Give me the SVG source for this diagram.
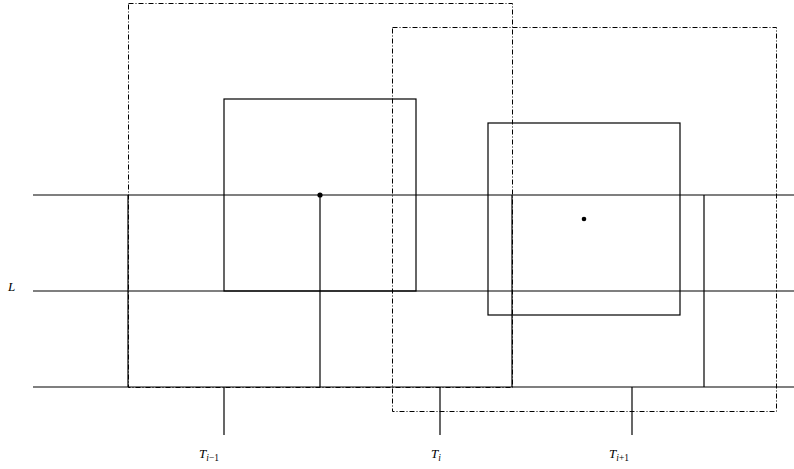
<svg xmlns="http://www.w3.org/2000/svg" width="794" height="469" viewBox="0 0 794 469">
<style>
.ln{stroke:#000;stroke-width:1.2;fill:none}
.dd{stroke:#000;stroke-width:1;fill:none;stroke-dasharray:5,2,1,2}
.lb{font-family:"Liberation Serif","DejaVu Serif",serif;font-style:italic;font-size:13px;fill:#000}
.sb{font-family:"Liberation Serif","DejaVu Serif",serif;font-size:9.5px;fill:#000}
.up{font-style:normal}
</style>
<rect width="794" height="469" fill="#fff"/>
<g id="connectors">
<line class="ln" x1="33" y1="195" x2="794" y2="195"/>
<line class="ln" x1="33" y1="291" x2="794" y2="291"/>
<line class="ln" x1="33" y1="387" x2="794" y2="387"/>
<line class="ln" x1="128" y1="195" x2="128" y2="387"/>
<line class="ln" x1="320" y1="195" x2="320" y2="387"/>
<line class="ln" x1="512" y1="195" x2="512" y2="387"/>
<line class="ln" x1="704" y1="195" x2="704" y2="387"/>
<line class="ln" x1="224" y1="387" x2="224" y2="435"/>
<line class="ln" x1="440" y1="387" x2="440" y2="435"/>
<line class="ln" x1="632" y1="387" x2="632" y2="435"/>
</g>
<g id="window-left"><rect class="dd" x="128.5" y="3.5" width="384" height="384"/></g>
<g id="window-right"><rect class="dd" x="392.5" y="27.5" width="384" height="384"/></g>
<g id="box-left"><rect class="ln" x="224" y="99" width="192" height="192"/></g>
<g id="box-right"><rect class="ln" x="488" y="123" width="192" height="192"/></g>
<g id="dot-left"><circle cx="320" cy="195" r="2.6" fill="#000"/></g>
<g id="dot-right"><circle cx="584" cy="219" r="2.3" fill="#000"/></g>
<g id="label-L"><text class="lb" x="8" y="291">L</text></g>
<g id="label-Ti-1"><text class="lb" x="199" y="458">T<tspan class="sb" dy="3">i<tspan class="up">−1</tspan></tspan></text></g>
<g id="label-Ti"><text class="lb" x="431" y="458">T<tspan class="sb" dy="3">i</tspan></text></g>
<g id="label-Ti+1"><text class="lb" x="609" y="458">T<tspan class="sb" dy="3">i<tspan class="up">+1</tspan></tspan></text></g>
</svg>
